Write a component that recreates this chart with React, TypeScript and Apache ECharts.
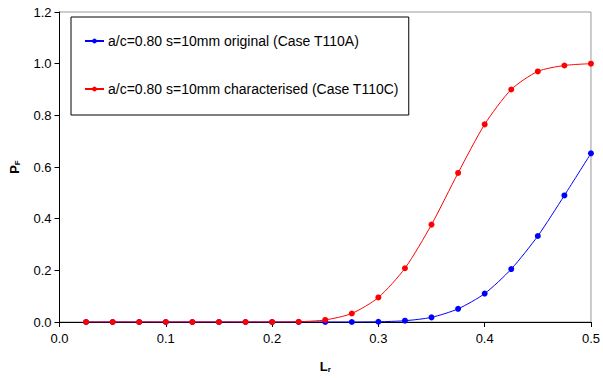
import React, { useEffect, useRef } from "react";
import * as echarts from "echarts";

const lr = [0.025, 0.05, 0.075, 0.1, 0.125, 0.15, 0.175, 0.2, 0.225, 0.25, 0.275, 0.3, 0.325, 0.35, 0.375, 0.4, 0.425, 0.45, 0.475, 0.5];
const originalPF = [0, 0, 0, 0, 0, 0, 0, 0, 0, 0, 0, 0.001, 0.005, 0.018, 0.051, 0.11, 0.205, 0.333, 0.49, 0.653];
const characterisedPF = [0, 0, 0, 0, 0, 0, 0, 0, 0.001, 0.008, 0.033, 0.095, 0.208, 0.377, 0.577, 0.765, 0.9, 0.97, 0.993, 1.0];
const seriesNames = [
  "a/c=0.80 s=10mm original (Case T110A)",
  "a/c=0.80 s=10mm characterised (Case T110C)",
];

export default function App() {
  const ref = useRef<HTMLDivElement>(null);
  useEffect(() => {
    const chart = echarts.init(ref.current!, null, { renderer: "svg" });
    const font = "Liberation Sans, Arial, sans-serif";
    chart.setOption({
      animation: false,
      textStyle: { fontFamily: font },
      grid: { left: 56, right: 10, top: 12, bottom: 54, show: true, borderColor: "#999", borderWidth: 1 },
      legend: {
        orient: "vertical",
        left: 71,
        top: 17,
        data: seriesNames,
        borderColor: "#000",
        borderWidth: 1,
        padding: [17, 10, 19, 13],
        itemGap: 34,
        itemWidth: 19,
        itemHeight: 6,
        textStyle: { fontSize: 14, color: "#000", fontFamily: font, padding: [0, 0, 0, -1] },
      },
      xAxis: {
        type: "value",
        min: 0,
        max: 0.5,
        interval: 0.1,
        name: "{b|L}{s|r}",
        nameLocation: "middle",
        nameGap: 37,
        nameTextStyle: {
          rich: {
            b: { fontSize: 13, fontWeight: "bold", color: "#000", fontFamily: font },
            s: { fontSize: 8, fontWeight: "bold", color: "#000", fontFamily: font, verticalAlign: "bottom", padding: [6, 0, 0, 0] },
          },
        },
        axisLine: { lineStyle: { color: "#000", width: 1 } },
        axisTick: { show: true, length: 5, lineStyle: { color: "#000" } },
        axisLabel: { color: "#000", fontSize: 13, margin: 10, formatter: (v: number) => v.toFixed(1) },
        splitLine: { show: false },
      },
      yAxis: {
        type: "value",
        min: 0,
        max: 1.2,
        interval: 0.2,
        name: "{b|P}{s|F}",
        nameLocation: "middle",
        nameRotate: 90,
        nameGap: 38,
        nameTextStyle: {
          rich: {
            b: { fontSize: 13, fontWeight: "bold", color: "#000", fontFamily: font },
            s: { fontSize: 8, fontWeight: "bold", color: "#000", fontFamily: font, verticalAlign: "bottom", padding: [6, 0, 0, 0] },
          },
        },
        axisLine: { show: true, lineStyle: { color: "#000", width: 1 } },
        axisTick: { show: true, length: 5, lineStyle: { color: "#000" } },
        axisLabel: { color: "#000", fontSize: 13, margin: 8, formatter: (v: number) => v.toFixed(1) },
        splitLine: { show: false },
      },
      series: [
        {
          name: seriesNames[0],
          type: "line",
          data: lr.map((x, i) => [x, originalPF[i]]),
          smooth: 0.25,
          symbol: "circle",
          symbolSize: 6,
          color: "#0000ff",
          lineStyle: { width: 1, color: "#0000ff" },
          itemStyle: { color: "#0000ff" },
          z: 2,
        },
        {
          name: seriesNames[1],
          type: "line",
          data: lr.map((x, i) => [x, characterisedPF[i]]),
          smooth: 0.25,
          symbol: "circle",
          symbolSize: 6,
          color: "#ff0000",
          lineStyle: { width: 1, color: "#ff0000" },
          itemStyle: { color: "#ff0000" },
          z: 3,
        },
      ],
    });
    return () => chart.dispose();
  }, []);
  return <div ref={ref} style={{ width: 603, height: 378, position: "absolute", left: 0, top: 0 }} />;
}
